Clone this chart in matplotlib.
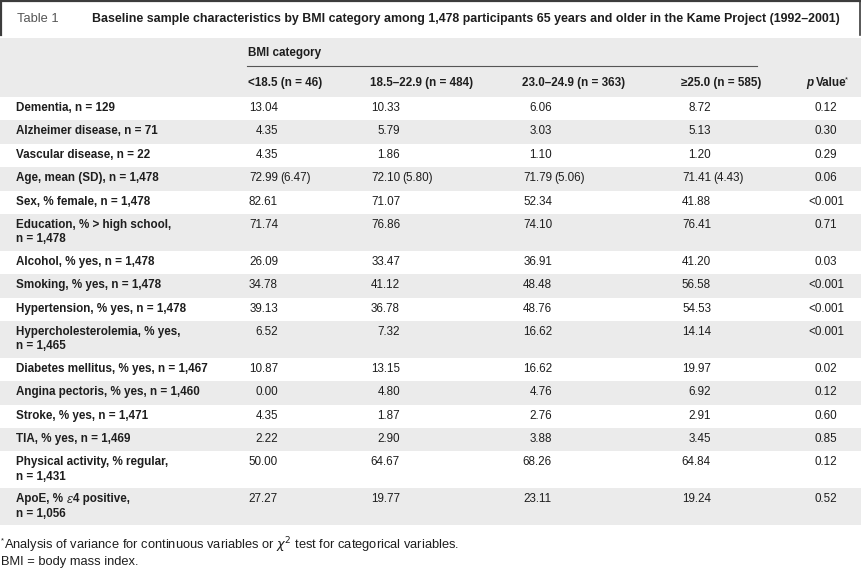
import matplotlib
matplotlib.use("Agg")
import matplotlib.pyplot as plt
from matplotlib.patches import Rectangle

# ---------------- data ----------------
table_tag = "Table 1"
table_title = ("Baseline sample characteristics by BMI category among 1,478 participants "
               "65 years and older in the Kame Project (1992–2001)")
group_header = "BMI category"
bmi_columns = ["<18.5 (n = 46)", "18.5–22.9 (n = 484)", "23.0–24.9 (n = 363)", "≥25.0 (n = 585)"]

row_labels = [
    "Dementia, n = 129",
    "Alzheimer disease, n = 71",
    "Vascular disease, n = 22",
    "Age, mean (SD), n = 1,478",
    "Sex, % female, n = 1,478",
    "Education, % > high school,\nn = 1,478",
    "Alcohol, % yes, n = 1,478",
    "Smoking, % yes, n = 1,478",
    "Hypertension, % yes, n = 1,478",
    "Hypercholesterolemia, % yes,\nn = 1,465",
    "Diabetes mellitus, % yes, n = 1,467",
    "Angina pectoris, % yes, n = 1,460",
    "Stroke, % yes, n = 1,471",
    "TIA, % yes, n = 1,469",
    "Physical activity, % regular,\nn = 1,431",
    "ApoE, % ε4 positive,\nn = 1,056",
]
bmi_lt_18_5 = [13.04, 4.35, 4.35, 72.99, 82.61, 71.74, 26.09, 34.78, 39.13, 6.52, 10.87, 0.00, 4.35, 2.22, 50.00, 27.27]
bmi_18_5_22_9 = [10.33, 5.79, 1.86, 72.10, 71.07, 76.86, 33.47, 41.12, 36.78, 7.32, 13.15, 4.80, 1.87, 2.90, 64.67, 19.77]
bmi_23_0_24_9 = [6.06, 3.03, 1.10, 71.79, 52.34, 74.10, 36.91, 48.48, 48.76, 16.62, 16.62, 4.76, 2.76, 3.88, 68.26, 23.11]
bmi_ge_25_0 = [8.72, 5.13, 1.20, 71.41, 41.88, 76.41, 41.20, 56.58, 54.53, 14.14, 19.97, 6.92, 2.91, 3.45, 64.84, 19.24]
age_sd = [6.47, 5.80, 5.06, 4.43]
age_row = 3
p_values = ["0.12", "0.30", "0.29", "0.06", "<0.001", "0.71", "0.03", "<0.001", "<0.001",
            "<0.001", "0.02", "0.12", "0.60", "0.85", "0.12", "0.52"]
footnote_1 = "Analysis of variance for continuous variables or $\\chi^2$ test for categorical variables."
footnote_2 = "BMI = body mass index."

# ---------------- layout / style ----------------
W, H = 862, 570
FONT = "Liberation Sans"
TXT = "#1e1e1e"
GRAY = "#ebebeb"
FS = 8.4

fig = plt.figure(figsize=(W / 100, H / 100), dpi=100)
ax = fig.add_axes([0, 0, 1, 1])
ax.set_xlim(0, W)
ax.set_ylim(H, 0)
ax.axis("off")
renderer = fig.canvas.get_renderer()

# title box
ax.plot([0, W], [0.8, 0.8], color="#3c3c3c", lw=1.6, solid_capstyle="butt")
ax.plot([1, 1], [0, 35], color="#3c3c3c", lw=1.6)
ax.plot([860.5, 860.5], [0, 35], color="#3c3c3c", lw=1.2)
ax.text(17, 19, table_tag, fontsize=9.3, family=FONT, color="#555555", va="center", ha="left")
ax.text(92, 19, table_title, fontsize=8.95, family=FONT, weight="bold", color=TXT, va="center", ha="left")

# header band
ax.add_patch(Rectangle((0, 38), W, 59, color=GRAY, lw=0))
col_left = [248, 370, 522, 681]
ax.text(col_left[0], 53, group_header, fontsize=FS, family=FONT, weight="bold", color=TXT, va="center")
ax.plot([col_left[0] - 1, 757], [66, 66], color="#555555", lw=0.8)
for x, c in zip(col_left, bmi_columns):
    ax.text(x, 83, c, fontsize=FS, family=FONT, weight="bold", color=TXT, va="center")

# p Value header pieces
p_x = 826
tp = ax.text(806, 83, "p", fontsize=FS, family=FONT, weight="bold", style="italic", color=TXT, va="center", ha="left")
bbp = tp.get_window_extent(renderer)
tv = ax.text(bbp.x1 + 2.5, 83, "Value", fontsize=FS, family=FONT, weight="bold", color=TXT, va="center", ha="left")
bbv = tv.get_window_extent(renderer)
ax.text(bbv.x1 - 1.5, 80, "*", fontsize=5.5, family=FONT, color=TXT, va="center", ha="left")

# body rows
single_h, double_h = 23.4, 36.8
y = 97.0
columns = [bmi_lt_18_5, bmi_18_5_22_9, bmi_23_0_24_9, bmi_ge_25_0]
for i, label in enumerate(row_labels):
    lines = label.split("\n")
    h = single_h if len(lines) == 1 else double_h
    if i % 2 == 1:
        ax.add_patch(Rectangle((0, y), W, h, color=GRAY, lw=0))
    y1 = y + 11.0
    for k, ln in enumerate(lines):
        if "ε" in ln:
            a, b = ln.split("ε")
            t1 = ax.text(16, y1 + 14.5 * k, a, fontsize=FS, family=FONT, weight="bold", color=TXT, va="center")
            e1 = t1.get_window_extent(renderer)
            t2 = ax.text(e1.x1 + 0.5, y1 + 14.5 * k, "ε", fontsize=FS, family="DejaVu Serif",
                         style="italic", color=TXT, va="center")
            e2 = t2.get_window_extent(renderer)
            ax.text(e2.x1 + 0.3, y1 + 14.5 * k, b, fontsize=FS, family=FONT, weight="bold", color=TXT, va="center")
        else:
            ax.text(16, y1 + 14.5 * k, ln, fontsize=FS, family=FONT, weight="bold", color=TXT, va="center")
    for j, col in enumerate(columns):
        right = col_left[j] + 30
        ax.text(right, y1, f"{col[i]:.2f}", fontsize=FS, family=FONT, color=TXT, va="center", ha="right")
        if i == age_row:
            ax.text(right + 2.2, y1, f"({age_sd[j]:.2f})", fontsize=FS, family=FONT, color=TXT, va="center", ha="left")
    ax.text(p_x, y1, p_values[i], fontsize=FS, family=FONT, color=TXT, va="center", ha="center")
    y += h

# footnotes
ax.text(1, 541, "*", fontsize=5.5, family=FONT, color=TXT, va="center", ha="left")
ax.text(4, 545, footnote_1, fontsize=9.3, family=FONT, color=TXT, va="center", ha="left")
ax.text(1, 562, footnote_2, fontsize=9.3, family=FONT, color=TXT, va="center", ha="left")

fig.savefig("out.png", dpi=100, facecolor="white")
